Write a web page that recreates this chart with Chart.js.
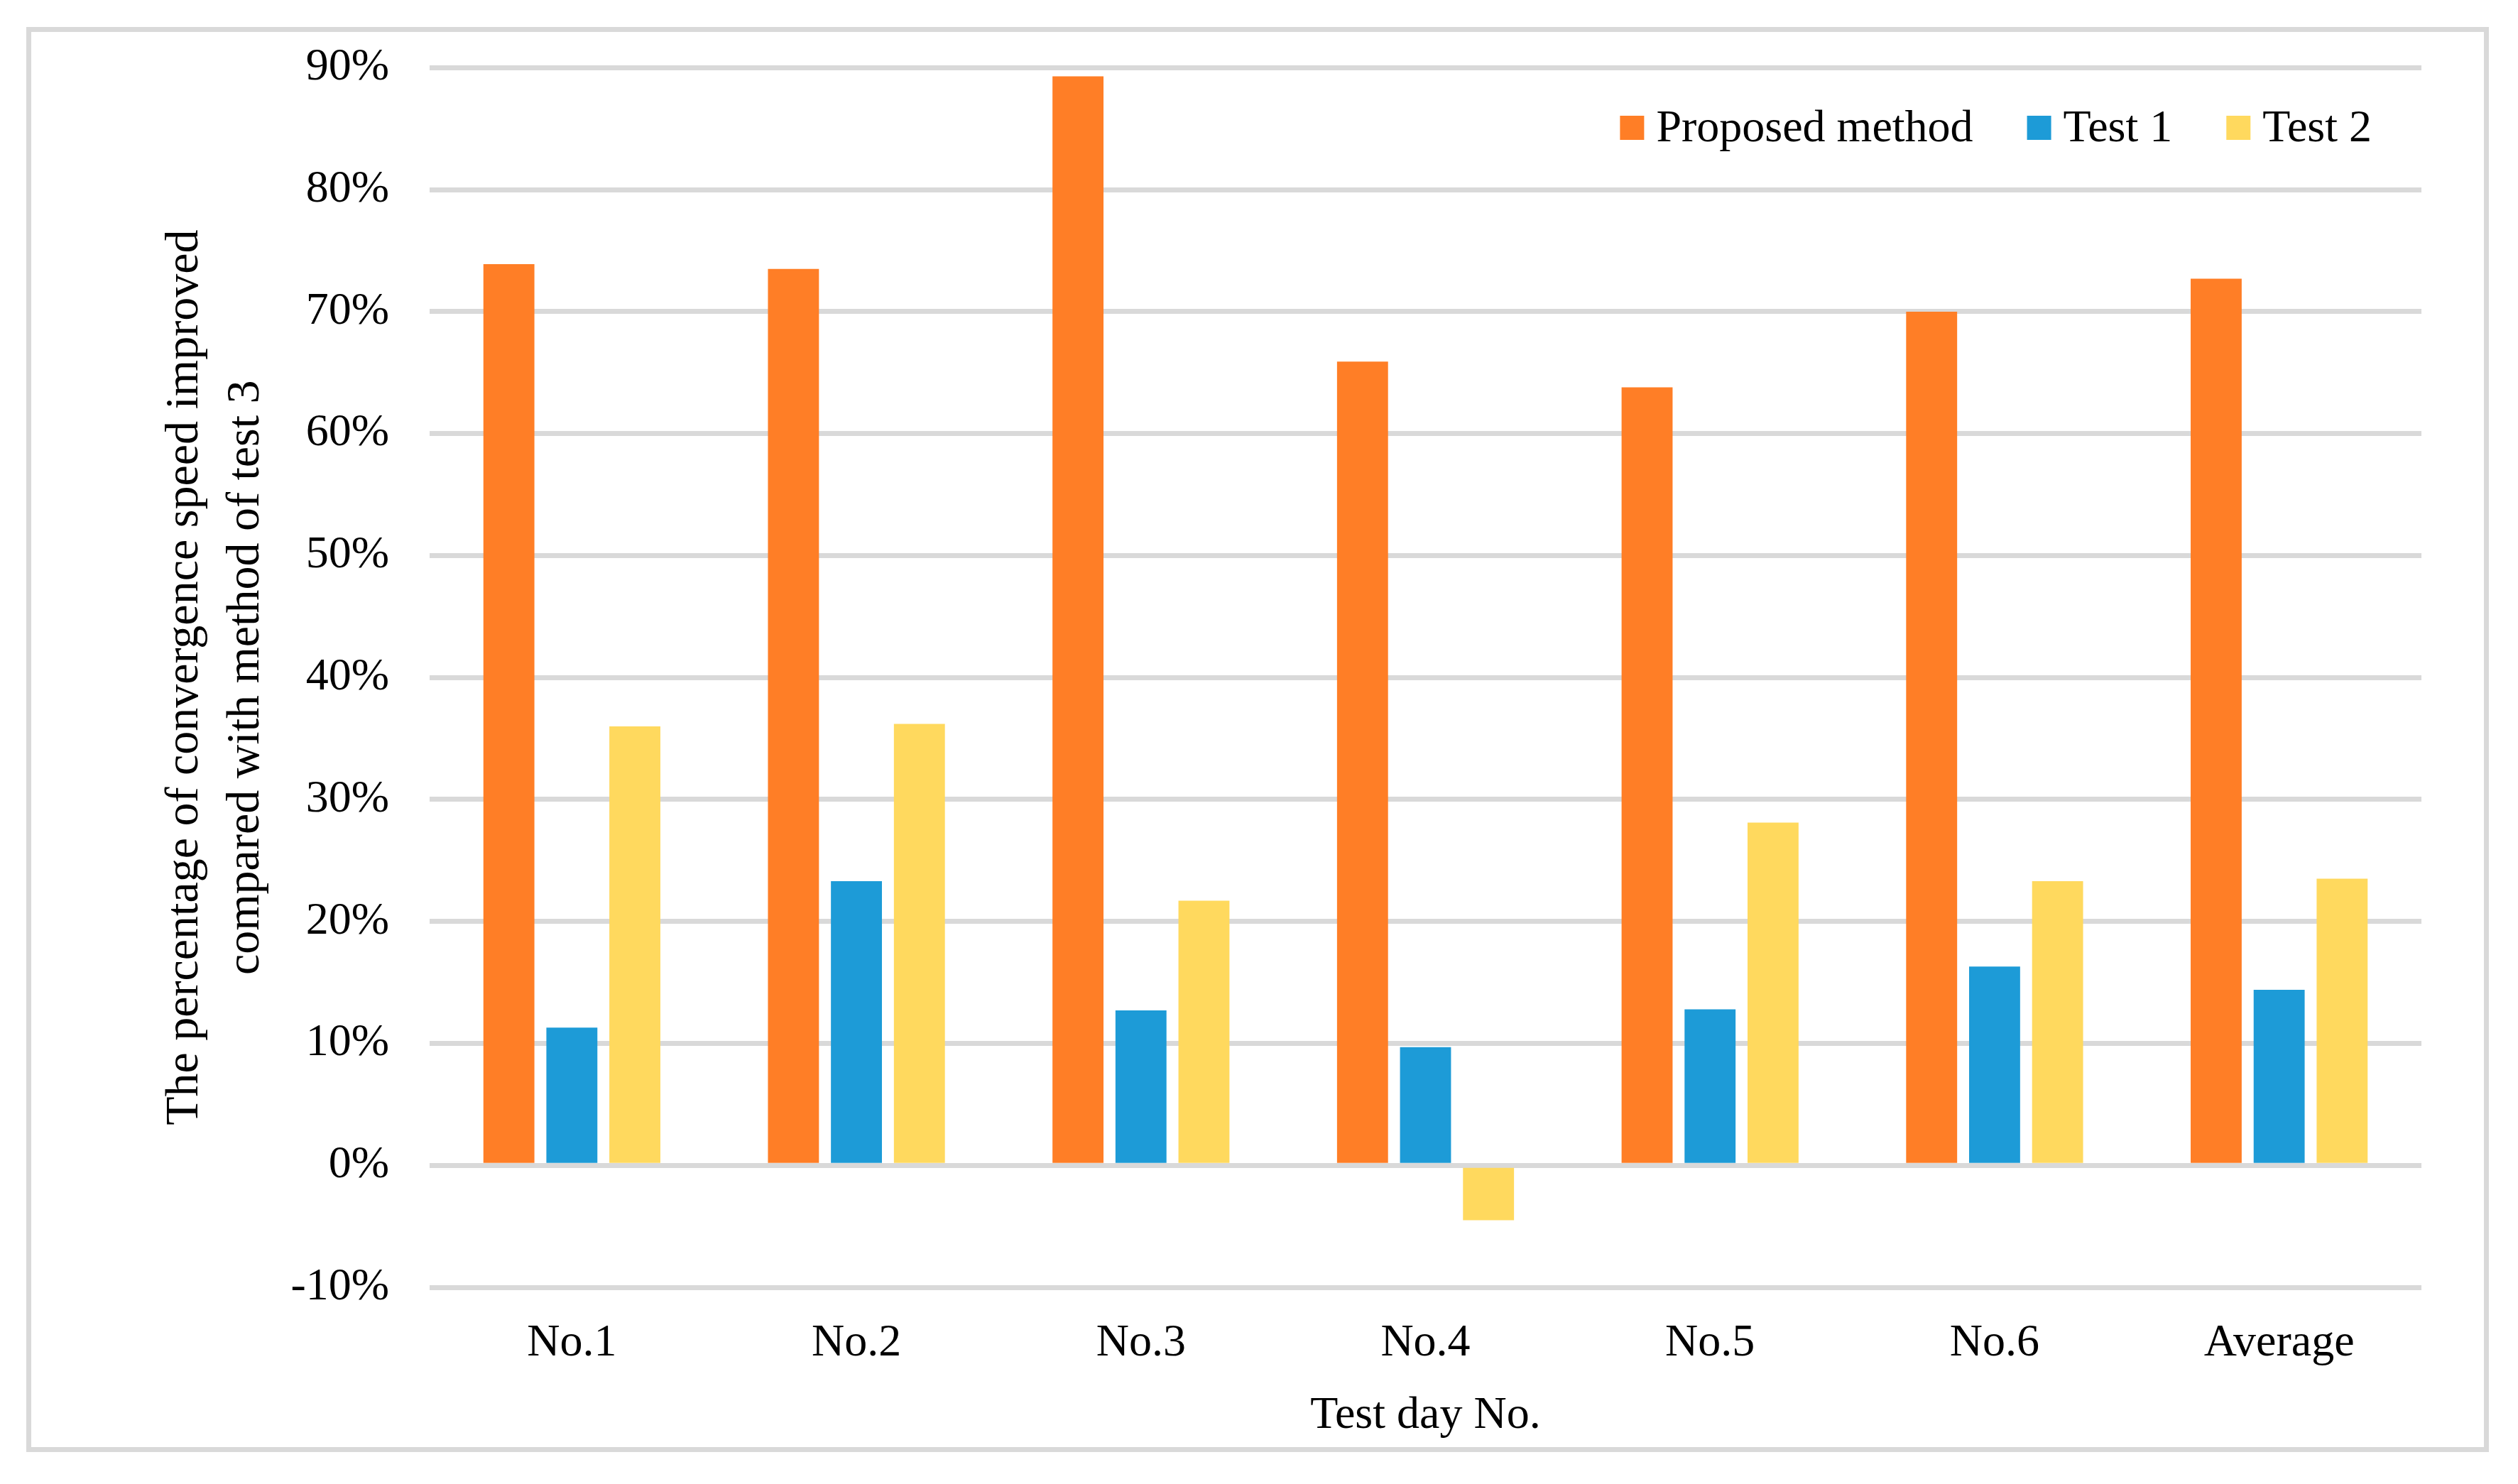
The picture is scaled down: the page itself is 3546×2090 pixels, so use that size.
<!DOCTYPE html>
<html lang="en">
<head>
  <meta charset="UTF-8" />
  <title>Convergence speed improvement</title>
  <script src="https://cdn.jsdelivr.net/npm/chart.js"></script>
  <style>
    body {
      margin: 0;
      background: #fff;
    }

    .frame {
      position: absolute;
      left: 37px;
      top: 38px;
      width: 3454px;
      height: 1993px;
      border: 7px solid #d9d9d9;
    }

    #chart {
      position: absolute;
      left: 0;
      top: 0;
    }
  </style>
</head>
<body>
  <div class="frame"></div>
  <canvas id="chart" width="3546" height="2090"></canvas>

  <script>
    const days = ['No.1', 'No.2', 'No.3', 'No.4', 'No.5', 'No.6', 'Average'];
    const proposed = [73.9, 73.5, 89.3, 65.9, 63.8, 70.0, 72.7];
    const test1 = [11.3, 23.3, 12.7, 9.7, 12.8, 16.3, 14.4];
    const test2 = [36.0, 36.2, 21.7, -4.5, 28.1, 23.3, 23.5];
    const seriesNames = ['Proposed method', 'Test 1', 'Test 2'];

    const serif = 'Liberation Serif';

    // legend sits inside the plot, top right, in one row
    const insideLegend = {
      id: 'insideLegend',
      afterDraw(chart) {
        const ctx = chart.ctx;
        const box = 34, gap = 17, between = 76;
        const right = chart.chartArea.right - 70;
        const cy = 180;
        ctx.save();
        ctx.font = '64px "' + serif + '"';
        ctx.textBaseline = 'middle';
        ctx.textAlign = 'left';
        const items = chart.data.datasets.map(ds => ({
          text: ds.label, color: ds.backgroundColor, w: ctx.measureText(ds.label).width
        }));
        let total = items.reduce((s, it) => s + box + gap + it.w, 0) + between * (items.length - 1);
        let x = right - total;
        items.forEach(it => {
          ctx.fillStyle = it.color;
          ctx.fillRect(x, cy - box / 2, box, box);
          ctx.fillStyle = '#000';
          ctx.fillText(it.text, x + box + gap, cy + 2);
          x += box + gap + it.w + between;
        });
        ctx.restore();
      }
    };

    new Chart(document.getElementById('chart'), {
      type: 'bar',
      data: {
        labels: days,
        datasets: [
          { label: seriesNames[0], data: proposed, backgroundColor: '#ff7e26' },
          { label: seriesNames[1], data: test1, backgroundColor: '#1d9bd7' },
          { label: seriesNames[2], data: test2, backgroundColor: '#ffd95e' }
        ]
      },
      options: {
        responsive: false,
        devicePixelRatio: 1,
        animation: false,
        categoryPercentage: 0.664,
        barPercentage: 0.81,
        layout: {
          padding: { left: 200, right: 136, top: 92, bottom: 30 }
        },
        plugins: {
          tooltip: { enabled: false },
          legend: { display: false }
        },
        scales: {
          x: {
            grid: { display: false },
            border: { display: false },
            ticks: {
              color: '#000',
              font: { family: serif, size: 64 },
              padding: 33,
              maxRotation: 0
            },
            title: {
              display: true,
              text: 'Test day No.',
              color: '#000',
              font: { family: serif, size: 64 },
              padding: { bottom: 27 }
            },
            afterFit(scale) { scale.height = 247; }
          },
          y: {
            min: -10,
            max: 90,
            grid: { color: '#d9d9d9', lineWidth: 7, drawTicks: false },
            border: { display: false },
            ticks: {
              stepSize: 10,
              color: '#000',
              font: { family: serif, size: 64 },
              padding: 57,
              callback: v => (v < 0 ? '-' : '') + Math.abs(v) + '%'
            },
            title: {
              display: true,
              text: ['The percentage of convergence speed improved', 'compared with method of test 3'],
              color: '#000',
              font: { family: serif, size: 66, lineHeight: 1.3 },
              padding: { top: 18 }
            },
            afterFit(scale) { scale.width = 405; }
          }
        }
      },
      plugins: [insideLegend]
    });
  </script>
</body>
</html>
